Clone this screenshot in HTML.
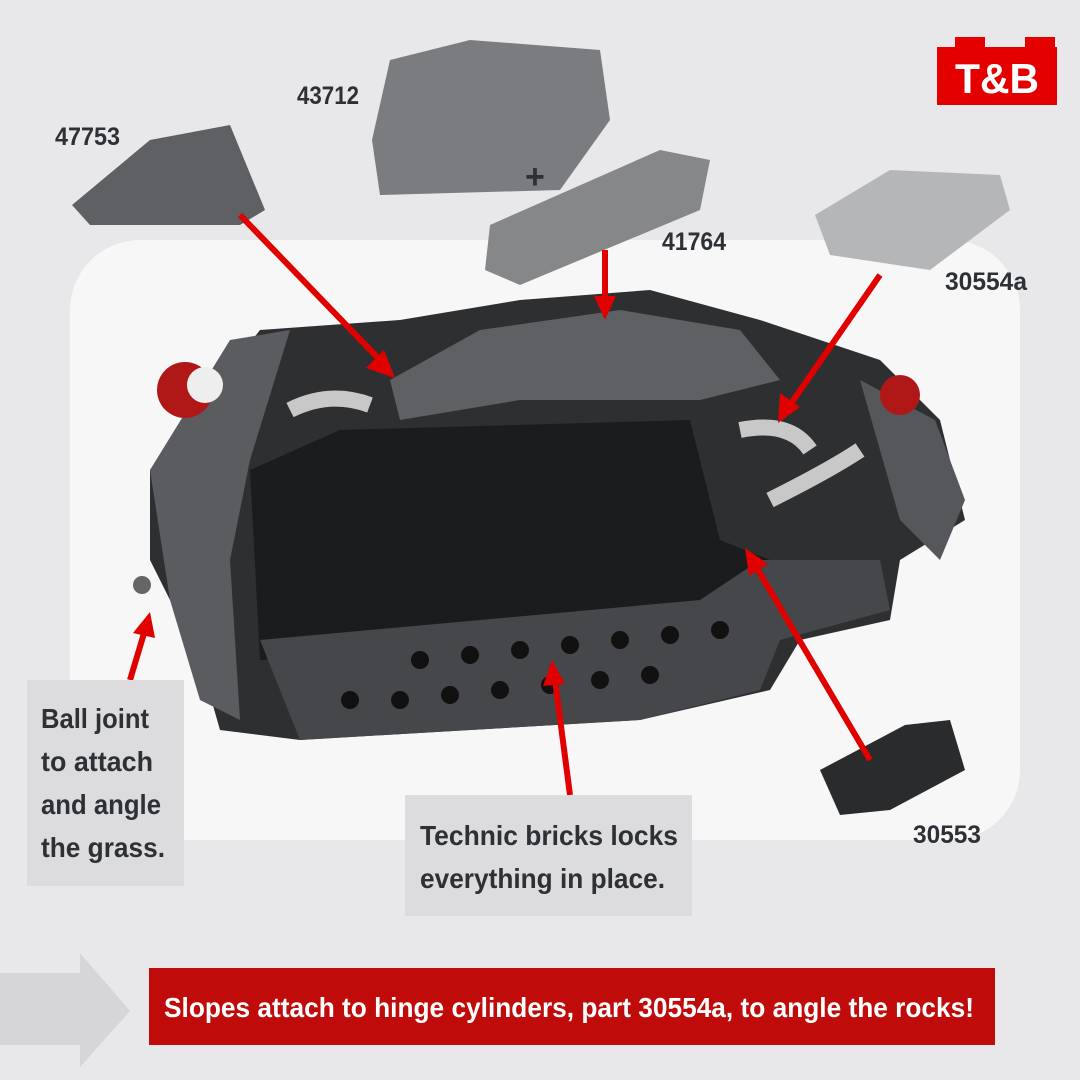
<!DOCTYPE html>
<html><head><meta charset="utf-8"><style>
html,body{margin:0;padding:0}
body{width:1080px;height:1080px;overflow:hidden;background:#e8e8ea;font-family:"Liberation Sans",sans-serif}
svg{position:absolute;left:0;top:0}
.t{font-family:"Liberation Sans",sans-serif;font-weight:bold}
</style></head><body>
<svg width="1080" height="1080" viewBox="0 0 1080 1080">
<rect x="70" y="240" width="950" height="600" rx="70" fill="#f7f7f8"/>
<polygon points="150,470 190,420 260,330 400,320 520,300 650,290 760,320 880,360 940,420 965,520 900,560 890,620 800,640 770,690 640,720 470,730 300,740 220,730 200,660 170,600 150,560" fill="#2e2f31"/>
<polygon points="150,470 230,340 290,330 250,460 230,560 240,720 200,700 170,600" fill="#5a5c60"/>
<polygon points="860,380 935,420 965,500 940,560 900,520" fill="#55575b"/>
<polygon points="390,380 480,330 620,310 740,330 780,380 700,400 520,400 400,420" fill="#5e6064"/>
<polygon points="250,470 340,430 690,420 720,540 770,560 760,620 600,640 420,650 260,660" fill="#1b1c1d"/>
<polygon points="260,640 700,600 760,560 880,560 890,610 780,640 760,690 640,720 300,740" fill="#45474b"/>
<g fill="#111">
<circle cx="350" cy="700" r="9"/><circle cx="400" cy="700" r="9"/><circle cx="450" cy="695" r="9"/><circle cx="500" cy="690" r="9"/><circle cx="550" cy="685" r="9"/><circle cx="600" cy="680" r="9"/><circle cx="650" cy="675" r="9"/>
<circle cx="420" cy="660" r="9"/><circle cx="470" cy="655" r="9"/><circle cx="520" cy="650" r="9"/><circle cx="570" cy="645" r="9"/><circle cx="620" cy="640" r="9"/><circle cx="670" cy="635" r="9"/><circle cx="720" cy="630" r="9"/>
</g>
<circle cx="185" cy="390" r="28" fill="#b01818"/><circle cx="205" cy="385" r="18" fill="#eee"/>
<circle cx="900" cy="395" r="20" fill="#b01818"/>
<path d="M290 410 Q330 390 370 405" stroke="#c8c8c8" stroke-width="16" fill="none"/>
<path d="M740 430 Q790 420 810 450 M770 500 Q830 470 860 450" stroke="#c8c8c8" stroke-width="16" fill="none"/>
<circle cx="142" cy="585" r="9" fill="#666"/>
<polygon points="72,205 150,140 230,125 265,210 240,225 90,225" fill="#5e6064"/>
<polygon points="390,60 470,40 600,50 610,120 560,190 380,195 372,140" fill="#7a7c80"/>
<polygon points="490,225 660,150 710,160 700,210 520,285 485,270" fill="#858789"/>
<polygon points="815,215 890,170 1000,175 1010,210 930,270 830,255" fill="#b5b6b8"/>
<polygon points="820,770 905,725 950,720 965,770 890,810 840,815" fill="#2a2b2d"/>
<g stroke="#e00000" stroke-width="6" fill="#e00000">
<line x1="240" y1="215" x2="380" y2="360"/><polygon points="395,378 366,368 384,350" stroke="none"/>
<line x1="605" y1="250" x2="605" y2="300"/><polygon points="605,320 594,296 616,296" stroke="none"/>
<line x1="880" y1="275" x2="790" y2="405"/><polygon points="778,423 780,393 800,407" stroke="none"/>
<line x1="130" y1="680" x2="145" y2="630"/><polygon points="150,612 155,638 133,633" stroke="none"/>
<line x1="570" y1="795" x2="555" y2="680"/><polygon points="552,660 565,684 543,686" stroke="none"/>
<line x1="870" y1="760" x2="755" y2="565"/><polygon points="745,548 768,564 749,576" stroke="none"/>
</g>
<polygon points="0,973 80,973 80,953 130,1011 80,1067 80,1045 0,1045" fill="#d6d6d8"/>
<rect x="149" y="968" width="846" height="77" fill="#c00b0b"/>
<text class="t" x="569" y="1017" font-size="28" fill="#fff" text-anchor="middle" textLength="810" lengthAdjust="spacingAndGlyphs">Slopes attach to hinge cylinders, part 30554a, to angle the rocks!</text>
<rect x="27" y="680" width="157" height="206" fill="#dcdcde"/>
<g class="t" font-size="28" fill="#2d3035">
<text x="41" y="728" textLength="108" lengthAdjust="spacingAndGlyphs">Ball joint</text>
<text x="41" y="771" textLength="112" lengthAdjust="spacingAndGlyphs">to attach</text>
<text x="41" y="814" textLength="120" lengthAdjust="spacingAndGlyphs">and angle</text>
<text x="41" y="857" textLength="124" lengthAdjust="spacingAndGlyphs">the grass.</text>
</g>
<rect x="405" y="795" width="287" height="121" fill="#dcdcde"/>
<g class="t" font-size="28" fill="#2d3035">
<text x="420" y="845" textLength="258" lengthAdjust="spacingAndGlyphs">Technic bricks locks</text>
<text x="420" y="888" textLength="245" lengthAdjust="spacingAndGlyphs">everything in place.</text>
</g>
<g class="t" font-size="25" fill="#2d3035">
<text x="55" y="145" textLength="65" lengthAdjust="spacingAndGlyphs">47753</text>
<text x="297" y="104" textLength="62" lengthAdjust="spacingAndGlyphs">43712</text>
<text x="662" y="250" textLength="64" lengthAdjust="spacingAndGlyphs">41764</text>
<text x="945" y="290" textLength="82" lengthAdjust="spacingAndGlyphs">30554a</text>
<text x="913" y="843" textLength="68" lengthAdjust="spacingAndGlyphs">30553</text>
</g>
<text class="t" x="525" y="188" font-size="34" fill="#2d3035">+</text>
<path d="M937 47 h18 v-10 h30 v10 h40 v-10 h30 v10 h2 v58 h-120z" fill="#e50000"/>
<text class="t" x="997" y="93" font-size="42" fill="#fff" text-anchor="middle" textLength="84" lengthAdjust="spacingAndGlyphs">T&amp;B</text>
</svg>
</body></html>
